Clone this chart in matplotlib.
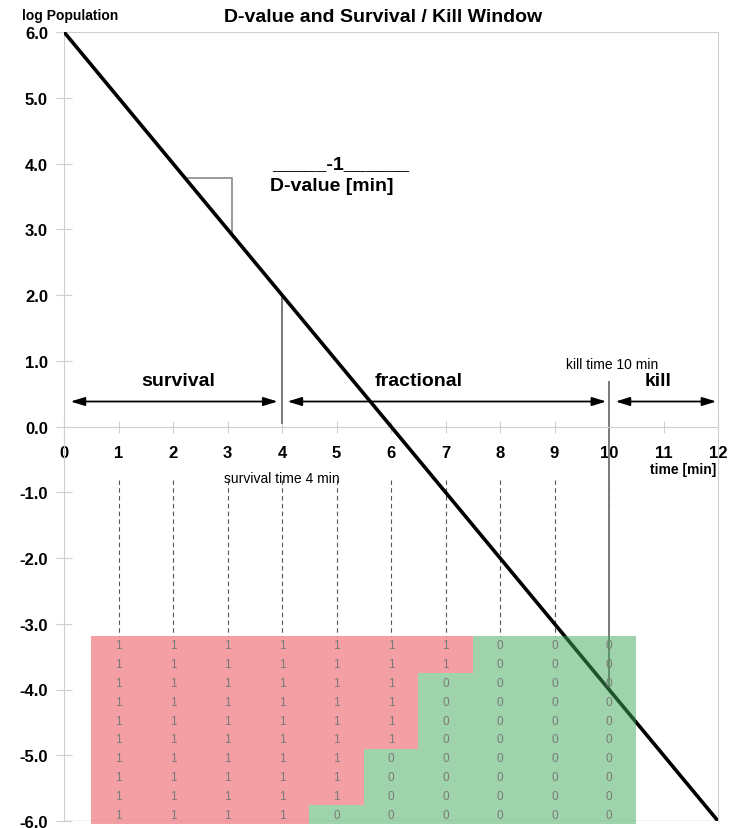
import matplotlib
matplotlib.use("Agg")
import matplotlib.pyplot as plt
import numpy as np
from matplotlib.colors import ListedColormap

plt.rcParams['font.family'] = ['Liberation Sans', 'DejaVu Sans']

# ---- data ----
line_t = [0, 12]
line_logN = [6.0, -6.0]
x_ticks = list(range(0, 13))
y_ticks = [6.0, 5.0, 4.0, 3.0, 2.0, 1.0, 0.0, -1.0, -2.0, -3.0, -4.0, -5.0, -6.0]
sample_times = [1, 2, 3, 4, 5, 6, 7, 8, 9, 10]
ones_per_time = [10, 10, 10, 10, 9, 6, 2, 0, 0, 0]   # positive tubes (top-down) of 10
n_tubes = 10
survival_time = 4
kill_time = 10

grid = np.array([[1 if r < n else 0 for n in ones_per_time] for r in range(n_tubes)])

fig = plt.figure(figsize=(7.29, 8.29), dpi=100)
ax = fig.add_axes([64/729, 7/829, 654/729, 789/829])
ax.set_xlim(0, 12)
ax.set_ylim(-6, 6)

grey = '#cfcfcf'
for s in ['left', 'top', 'right']:
    ax.spines[s].set_color(grey)
ax.spines['bottom'].set_position(('data', 0))
ax.spines['bottom'].set_color(grey)
ax.axhline(-6, color='#bdbdbd', lw=1, zorder=1)

ax.set_xticks(x_ticks)
ax.set_xticklabels([str(v) for v in x_ticks], fontsize=12, fontweight='bold')
ax.set_yticks(y_ticks)
ax.set_yticklabels([f"{v:.1f}" for v in y_ticks], fontsize=12, fontweight='bold')
ax.tick_params(axis='x', direction='inout', length=8, color=grey, pad=9.5)
ax.tick_params(axis='y', direction='inout', length=11, color=grey, pad=6)

# main kill curve
ax.plot(line_t, line_logN, color='black', lw=2.6, zorder=3, solid_capstyle='butt')

# slope triangle
slope = (line_logN[1] - line_logN[0]) / (line_t[1] - line_t[0])
def logN(t):
    return line_logN[0] + slope * (t - line_t[0])
ty = 3.78
tx0 = (ty - line_logN[0]) / slope
tx1 = 3.08
ax.plot([tx0, tx1, tx1], [ty, ty, logN(tx1)], color='#8a8a8a', lw=1.2, zorder=2)
ax.text(5.07, 3.93, "_____-1______", fontsize=14, fontweight='bold', ha='center', va='baseline')
ax.text(4.92, 3.66, "D-value [min]", fontsize=14, fontweight='bold', ha='center', va='center')

# survival / kill time markers
ax.plot([survival_time, survival_time], [logN(survival_time), 0.06], color='#7a7a7a', lw=1.4, zorder=2)
ax.plot([kill_time, kill_time], [0.68, logN(kill_time)], color='#7a7a7a', lw=1.4, zorder=2)

# double arrows
arrow_y = 0.38
aprops = dict(arrowstyle='<|-|>,head_length=0.65,head_width=0.2', color='black', lw=1.3,
              mutation_scale=13, shrinkA=0, shrinkB=0)
for a, b in [(0.12, 3.92), (4.1, 9.95), (10.12, 11.97)]:
    ax.annotate('', xy=(b, arrow_y), xytext=(a, arrow_y), arrowprops=aprops, zorder=2)
ax.text(2.1, 0.70, "survival", fontsize=14, fontweight='bold', ha='center', va='center')
ax.text(6.5, 0.70, "fractional", fontsize=14, fontweight='bold', ha='center', va='center')
ax.text(10.9, 0.70, "kill", fontsize=14, fontweight='bold', ha='center', va='center')
ax.text(10.06, 0.95, "kill time 10 min", fontsize=10, ha='center', va='center')
ax.text(4.0, -0.79, "survival time 4 min", fontsize=10, ha='center', va='center')
ax.text(11.97, -0.65, "time [min]", fontsize=10, fontweight='bold', ha='right', va='center')

# dashed sampling lines
grid_top = -3.18
grid_bot = -6.05
for t in sample_times:
    ax.plot([t, t], [-0.82, grid_top], color='#555555', lw=0.8, ls=(0, (4, 3)), zorder=1)

# tube grid
xe = np.arange(0.5, 11.0, 1.0)
ye = np.linspace(grid_top, grid_bot, n_tubes + 1)
cmap = ListedColormap([(0.25, 0.66, 0.35, 0.5), (0.91, 0.25, 0.29, 0.5)])
ax.pcolormesh(xe, ye, grid, cmap=cmap, vmin=0, vmax=1, shading='flat',
              antialiased=False, linewidth=0, zorder=4, clip_on=False)
yc = (ye[:-1] + ye[1:]) / 2
for r in range(n_tubes):
    for c, t in enumerate(sample_times):
        ax.text(t, yc[r], str(grid[r, c]), fontsize=8.5, color='#7a7a7a',
                ha='center', va='center', zorder=5)

fig.text(22/729, 1 - 16/829, "log Population", fontsize=10, fontweight='bold', ha='left', va='center')
fig.text(383/729, 1 - 17/829, "D-value and Survival / Kill Window", fontsize=14, fontweight='bold',
         ha='center', va='center')

fig.savefig("out.png", dpi=100)
